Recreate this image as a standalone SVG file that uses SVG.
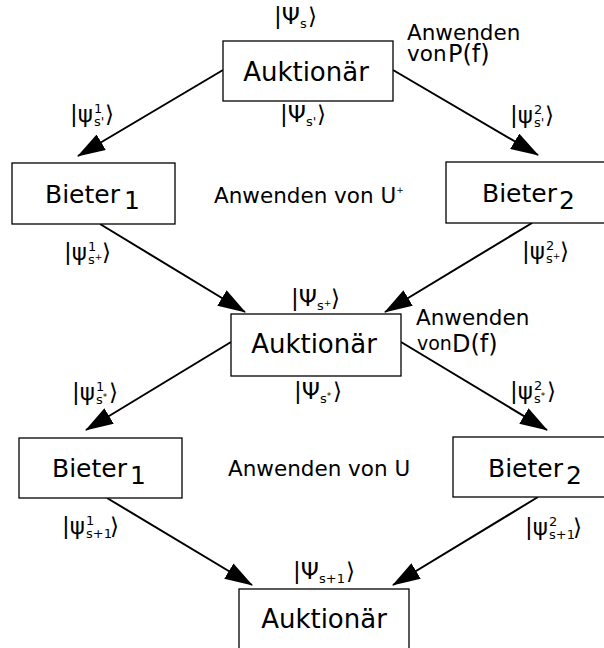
<svg xmlns="http://www.w3.org/2000/svg" width="604" height="648" viewBox="0 0 604 648">
  <style>
    text { font-family: "DejaVu Sans", "Liberation Sans", sans-serif; fill: #000; }
    .box { fill: #fff; stroke: #000; stroke-width: 1.3; }
    .name { font-size: 25px; }
    .title { font-size: 26px; text-anchor: middle; }
    .note { font-size: 21.5px; }
    .von { font-size: 19px; }
    .op { font-size: 24px; }
    .ket { font-size: 23px; }
    .idx { font-size: 13px; }
    .tiny { font-size: 9px; }
    .edge { stroke: #000; stroke-width: 2; fill: none; marker-end: url(#arrow); }
  </style>
  <defs>
    <marker id="arrow" markerUnits="userSpaceOnUse" viewBox="0 0 28 18" markerWidth="28" markerHeight="18" refX="27" refY="9" orient="auto">
      <path d="M0,0 L28,9 L0,18 Z" fill="#000"/>
    </marker>
  </defs>

  <!-- connectors -->
  <g id="connectors">
    <line class="edge" x1="223" y1="70" x2="78" y2="156"/>
    <line class="edge" x1="393" y1="70" x2="538" y2="155"/>
    <line class="edge" x1="100" y1="224" x2="245" y2="312"/>
    <line class="edge" x1="532" y1="223" x2="385" y2="312"/>
    <line class="edge" x1="231" y1="342" x2="86" y2="430"/>
    <line class="edge" x1="401" y1="342" x2="547" y2="430"/>
    <line class="edge" x1="107" y1="498" x2="252" y2="585"/>
    <line class="edge" x1="538" y1="497" x2="393" y2="585"/>
  </g>

  <!-- nodes -->
  <g id="auktionaer-1">
    <rect class="box" x="223" y="41" width="170" height="60"/>
    <text class="title" x="306" y="81">Auktionär</text>
  </g>
  <g id="bieter1-a">
    <rect class="box" x="12" y="163" width="163" height="61"/>
    <text class="name" x="45" y="203">Bieter</text>
    <text class="name" x="124" y="209">1</text>
  </g>
  <g id="bieter2-a">
    <rect class="box" x="446" y="162" width="200" height="61"/>
    <text class="name" x="482" y="202">Bieter</text>
    <text class="name" x="559" y="209">2</text>
  </g>
  <g id="auktionaer-2">
    <rect class="box" x="231" y="314" width="170" height="62"/>
    <text class="title" x="314" y="353">Auktionär</text>
  </g>
  <g id="bieter1-b">
    <rect class="box" x="19" y="438" width="163" height="60"/>
    <text class="name" x="52" y="477">Bieter</text>
    <text class="name" x="130" y="484">1</text>
  </g>
  <g id="bieter2-b">
    <rect class="box" x="453" y="437" width="200" height="60"/>
    <text class="name" x="488" y="477">Bieter</text>
    <text class="name" x="566" y="484">2</text>
  </g>
  <g id="auktionaer-3">
    <rect class="box" x="239" y="589" width="170" height="80"/>
    <text class="title" x="324" y="628">Auktionär</text>
  </g>

  <!-- operator notes -->
  <g id="notes">
    <text class="note" x="407" y="40">Anwenden</text>
    <text class="note" x="407" y="61">von</text>
    <text class="op" x="448" y="62">P(f)</text>
    <text class="note" x="416" y="325">Anwenden</text>
    <text class="von" x="417" y="350">von</text>
    <text class="op" x="452" y="352">D(f)</text>
    <text class="note" x="214" y="203">Anwenden von U<tspan class="tiny" dy="-10">+</tspan></text>
    <text class="note" x="228" y="476">Anwenden von U</text>
  </g>

  <!-- state labels -->
  <g id="states">
    <g transform="translate(274,24)">
      <text class="ket">|Ψ</text><text class="idx" x="26" y="4">s</text><text class="ket" x="34">⟩</text>
    </g>
    <g transform="translate(280,122)">
      <text class="ket">|Ψ</text><text class="idx" x="26" y="4">s'</text><text class="ket" x="37">⟩</text>
    </g>
    <g transform="translate(291,306)">
      <text class="ket">|Ψ</text><text class="idx" x="26" y="4">s<tspan class="tiny" dy="-4">+</tspan></text><text class="ket" x="40">⟩</text>
    </g>
    <g transform="translate(294,399)">
      <text class="ket">|Ψ</text><text class="idx" x="26" y="4">s<tspan class="tiny" dy="-4">*</tspan></text><text class="ket" x="39">⟩</text>
    </g>
    <g transform="translate(293,579)">
      <text class="ket">|Ψ</text><text class="idx" x="26" y="4">s+1</text><text class="ket" x="53">⟩</text>
    </g>

    <g transform="translate(70,122)">
      <text class="ket">|ψ</text><text class="idx" x="24" y="-9">1</text><text class="idx" x="24" y="4">s'</text><text class="ket" x="35">⟩</text>
    </g>
    <g transform="translate(510,123)">
      <text class="ket">|ψ</text><text class="idx" x="24" y="-9">2</text><text class="idx" x="24" y="4">s'</text><text class="ket" x="35">⟩</text>
    </g>
    <g transform="translate(64,260)">
      <text class="ket">|ψ</text><text class="idx" x="24" y="-9">1</text><text class="idx" x="24" y="4">s<tspan class="tiny" dy="-4">+</tspan></text><text class="ket" x="38">⟩</text>
    </g>
    <g transform="translate(522,259)">
      <text class="ket">|ψ</text><text class="idx" x="24" y="-9">2</text><text class="idx" x="24" y="4">s<tspan class="tiny" dy="-4">+</tspan></text><text class="ket" x="38">⟩</text>
    </g>
    <g transform="translate(72,400)">
      <text class="ket">|ψ</text><text class="idx" x="24" y="-9">1</text><text class="idx" x="24" y="4">s<tspan class="tiny" dy="-4">*</tspan></text><text class="ket" x="37">⟩</text>
    </g>
    <g transform="translate(510,399)">
      <text class="ket">|ψ</text><text class="idx" x="24" y="-9">2</text><text class="idx" x="24" y="4">s<tspan class="tiny" dy="-4">*</tspan></text><text class="ket" x="37">⟩</text>
    </g>
    <g transform="translate(62,534)">
      <text class="ket">|ψ</text><text class="idx" x="24" y="-9">1</text><text class="idx" x="24" y="4">s+1</text><text class="ket" x="48">⟩</text>
    </g>
    <g transform="translate(525,535)">
      <text class="ket">|ψ</text><text class="idx" x="24" y="-9">2</text><text class="idx" x="24" y="4">s+1</text><text class="ket" x="48">⟩</text>
    </g>
  </g>
</svg>
